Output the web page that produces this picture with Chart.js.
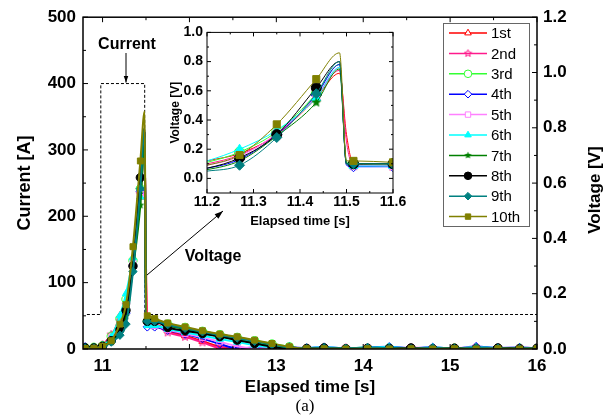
<!DOCTYPE html>
<html><head><meta charset="utf-8">
<script src="https://cdn.jsdelivr.net/npm/chart.js@4.4.1/dist/chart.umd.min.js"></script>
<style>
html,body{margin:0;padding:0;background:#fff;}
#wrap{position:relative;width:606px;height:419px;overflow:hidden;}
#main{position:absolute;left:0;top:0;}
#inset{position:absolute;left:150px;top:20px;}
</style></head>
<body><div id="wrap"><canvas id="main" width="606" height="419"></canvas><canvas id="inset" width="265" height="220"></canvas></div>
<script>
// ---------- data ----------
const times = [10.8, 10.9, 11.0, 11.1, 11.2, 11.27, 11.35, 11.435, 11.485, 11.5, 11.515, 11.6, 11.75, 11.95, 12.15, 12.35, 12.55, 12.75, 12.95, 13.15, 13.35, 13.55, 13.8, 14.05, 14.3, 14.55, 14.8, 15.05, 15.3, 15.55, 15.8, 16.0];
const seriesNames = ['1st','2nd','3rd','4th','5th','6th','7th','8th','9th','10th'];
const v1st  = [0.004,0.006,0.012,0.040,0.12,0.17,0.30,0.55,0.72,0.30,0.10,0.09,0.066,0.048,0.028,0.008,0.000,0.003,0.001,0.004,0.000,0.003,0.001,0.004,0.002,0.000,0.003,0.001,0.004,0.000,0.002,0.001];
const v2nd  = [0.003,0.005,0.015,0.052,0.10,0.16,0.30,0.56,0.74,0.25,0.09,0.085,0.060,0.044,0.024,0.004,0.002,0.000,0.003,0.001,0.002,0.000,0.004,0.001,0.000,0.003,0.001,0.002,0.000,0.004,0.001,0.002];
const v3rd  = [0.005,0.006,0.012,0.046,0.11,0.18,0.32,0.58,0.78,0.11,0.10,0.10,0.090,0.078,0.064,0.052,0.042,0.030,0.018,0.008,0.001,0.003,0.000,0.002,0.004,0.001,0.000,0.003,0.002,0.000,0.003,0.001];
const v4th  = [0.008,0.003,0.010,0.030,0.07,0.13,0.30,0.57,0.78,0.09,0.08,0.08,0.068,0.054,0.038,0.018,0.003,0.005,0.002,0.006,0.003,0.007,0.002,0.005,0.008,0.003,0.006,0.002,0.009,0.004,0.005,0.003];
const v5th  = [0.004,0.004,0.010,0.035,0.09,0.15,0.31,0.56,0.76,0.10,0.09,0.085,0.070,0.056,0.042,0.026,0.010,0.002,0.004,0.001,0.003,0.005,0.002,0.004,0.001,0.005,0.002,0.003,0.006,0.002,0.004,0.002];
const v6th  = [0.004,0.005,0.012,0.042,0.12,0.20,0.33,0.55,0.76,0.10,0.085,0.085,0.072,0.060,0.048,0.036,0.025,0.014,0.005,0.002,0.004,0.006,0.003,0.005,0.007,0.002,0.005,0.003,0.006,0.004,0.002,0.003];
const v7th  = [0.003,0.004,0.008,0.025,0.06,0.12,0.29,0.52,0.75,0.10,0.10,0.10,0.085,0.072,0.058,0.046,0.034,0.022,0.010,0.002,0.001,0.003,0.001,0.002,0.003,0.001,0.002,0.004,0.001,0.002,0.003,0.001];
const v8th  = [0.004,0.004,0.010,0.030,0.07,0.14,0.30,0.62,0.80,0.10,0.10,0.10,0.078,0.066,0.056,0.045,0.032,0.020,0.008,0.001,0.002,0.004,0.001,0.003,0.002,0.004,0.001,0.003,0.002,0.004,0.001,0.003];
const v9th  = [0.003,0.003,0.008,0.025,0.05,0.09,0.28,0.58,0.80,0.10,0.10,0.10,0.088,0.075,0.062,0.050,0.040,0.028,0.016,0.006,0.001,0.004,0.002,0.005,0.003,0.001,0.004,0.002,0.005,0.003,0.001,0.002];
const v10th = [0.002,0.003,0.010,0.030,0.09,0.16,0.37,0.68,0.86,0.12,0.12,0.11,0.094,0.080,0.066,0.054,0.044,0.032,0.020,0.008,0.001,0.001,0.000,0.001,0.000,0.001,0.000,0.001,0.000,0.001,0.000,0.001];
const voltageSeries = [v1st,v2nd,v3rd,v4th,v5th,v6th,v7th,v8th,v9th,v10th];
const currentTimes  = [10.82, 10.98, 10.98, 11.485, 11.485, 16.0];
const currentValues = [52, 52, 400, 400, 52, 52];
const xTickLabels   = [11, 12, 13, 14, 15, 16];
const currentTicks  = [0, 100, 200, 300, 400, 500];
const voltageTicks  = [0, 0.2, 0.4, 0.6, 0.8, 1.0, 1.2];
const insetXTicks   = [11.2, 11.3, 11.4, 11.5, 11.6];
const insetYTicks   = [0, 0.2, 0.4, 0.6, 0.8, 1.0];

// ---------- styles ----------
const colors = ['#ff0000','#ff1a8c','#33ff33','#0000ff','#ff80ff','#00ffff','#008000','#000000','#008080','#808000'];
const FONT = "'Liberation Sans', Arial, sans-serif";

function starImg(color, size, filled){
  const c = document.createElement('canvas'); c.width = size; c.height = size;
  const g = c.getContext('2d'); const cx = size/2, R = size/2 - 0.7, r = R*0.45;
  g.beginPath();
  for (let i=0;i<10;i++){ const a = -Math.PI/2 + i*Math.PI/5; const rr = (i%2)? r : R; g.lineTo(cx+rr*Math.cos(a), cx+rr*Math.sin(a)); }
  g.closePath();
  if (filled){ g.fillStyle = color; g.fill(); } else { g.strokeStyle = color; g.lineWidth = 1; g.stroke(); }
  return c;
}
function markerStyles(size){
  return [
    {style:'triangle', fill:false},
    {style:starImg(colors[1], size, false), fill:false},
    {style:'circle', fill:false},
    {style:'rectRot', fill:false},
    {style:'rect', fill:false},
    {style:'triangle', fill:true},
    {style:starImg(colors[6], size, true), fill:true},
    {style:'circle', fill:true},
    {style:'rectRot', fill:true},
    {style:'rect', fill:true}
  ];
}

function buildVoltageDatasets(hidden, radius, lineWidth, yId, imgSize){
  const ms = markerStyles(imgSize);
  return voltageSeries.map((vals, i) => ({
    label: seriesNames[i],
    data: times.map((t, k) => ({x: t, y: vals[k]})),
    yAxisID: yId,
    borderColor: colors[i],
    backgroundColor: ms[i].fill ? colors[i] : 'rgba(255,255,255,0)',
    pointBorderColor: colors[i],
    pointBackgroundColor: ms[i].fill ? colors[i] : 'rgba(255,255,255,0)',
    pointStyle: ms[i].style,
    pointBorderWidth: 1,
    pointRadius: ctx => hidden.includes(ctx.dataIndex) ? 0 : radius,
    borderWidth: lineWidth,
    cubicInterpolationMode: 'monotone',
    order: 10 - i
  }));
}

function setTicks(list){ return s => { s.ticks = list.map(v => ({value: v})); }; }

function drawFrameTicks(chart, specs, frameWidth){
  const {ctx, chartArea: a} = chart;
  ctx.save();
  ctx.strokeStyle = '#000';
  ctx.lineWidth = 1;
  ctx.beginPath();
  specs.forEach(sp => {
    const sc = chart.scales[sp.scale];
    sp.values.forEach(v => {
      const p = sc.getPixelForValue(v);
      if (sp.dir === 'x') {
        if (sp.bottom !== false){ ctx.moveTo(p, a.bottom); ctx.lineTo(p, a.bottom - sp.len); }
        if (sp.top){ ctx.moveTo(p, a.top); ctx.lineTo(p, a.top + sp.len); }
      } else {
        if (sp.left){ ctx.moveTo(a.left, p); ctx.lineTo(a.left + sp.len, p); }
        if (sp.right){ ctx.moveTo(a.right, p); ctx.lineTo(a.right - sp.len, p); }
      }
    });
  });
  ctx.stroke();
  ctx.lineWidth = frameWidth;
  ctx.strokeRect(a.left, a.top, a.right - a.left, a.bottom - a.top);
  ctx.restore();
}

function arrow(ctx, x1, y1, x2, y2, head){
  ctx.beginPath(); ctx.moveTo(x1, y1); ctx.lineTo(x2, y2); ctx.stroke();
  const ang = Math.atan2(y2 - y1, x2 - x1);
  ctx.beginPath();
  ctx.moveTo(x2, y2);
  ctx.lineTo(x2 - head*Math.cos(ang - 0.33), y2 - head*Math.sin(ang - 0.33));
  ctx.lineTo(x2 - head*Math.cos(ang + 0.33), y2 - head*Math.sin(ang + 0.33));
  ctx.closePath(); ctx.fill();
}

const range = (a, b, s) => { const r = []; for (let v = a; v <= b + 1e-9; v += s) r.push(+v.toFixed(4)); return r; };

// ---------- main chart ----------
const mainPlugin = {
  id: 'mainDecor',
  afterDraw(chart){
    drawFrameTicks(chart, [
      {scale:'x', dir:'x', values: xTickLabels, len:5, top:true},
      {scale:'x', dir:'x', values: range(11.5, 15.5, 1), len:3, top:true},
      {scale:'yA', dir:'y', values: currentTicks, len:5, left:true},
      {scale:'yA', dir:'y', values: range(50, 450, 100), len:3, left:true},
      {scale:'yV', dir:'y', values: voltageTicks, len:5, right:true},
      {scale:'yV', dir:'y', values: range(0.1, 1.1, 0.2), len:3, right:true}
    ], 1.5);
    const ctx = chart.ctx;
    const sx = chart.scales.x, yA = chart.scales.yA;
    ctx.save();
    ctx.fillStyle = '#000'; ctx.strokeStyle = '#000'; ctx.lineWidth = 1;
    ctx.textAlign = 'center'; ctx.textBaseline = 'middle';
    ctx.font = 'bold 16px ' + FONT;
    ctx.fillText('Current', 127, 45);
    const ax = sx.getPixelForValue(11.27);
    arrow(ctx, ax, 53, ax, yA.getPixelForValue(400) - 1, 7);
    ctx.fillText('Voltage', 213, 257);
    arrow(ctx, 147, 275, 223, 211, 9);
    // right axis title
    ctx.save();
    ctx.translate(595, 190); ctx.rotate(-Math.PI/2);
    ctx.font = 'bold 17px ' + FONT;
    ctx.fillText('Voltage [V]', 0, 0);
    ctx.restore();
    // caption
    ctx.font = "17px 'Liberation Serif', 'Times New Roman', serif";
    ctx.fillText('(a)', 305, 407);
    // legend
    const lx = 443, ly = 23, lw = 86, lh = 203;
    ctx.fillStyle = '#fff'; ctx.fillRect(lx, ly, lw, lh);
    ctx.strokeStyle = '#666'; ctx.lineWidth = 1; ctx.strokeRect(lx + 0.5, ly + 0.5, lw, lh);
    const ms = markerStyles(9);
    ctx.textAlign = 'left';
    ctx.font = '15px ' + FONT;
    seriesNames.forEach((n, i) => {
      const y = 33 + i * 20.4;
      ctx.strokeStyle = colors[i]; ctx.lineWidth = 1.5;
      ctx.beginPath(); ctx.moveTo(449, y); ctx.lineTo(487, y); ctx.stroke();
      ctx.fillStyle = ms[i].fill ? colors[i] : '#fff';
      ctx.lineWidth = 1;
      Chart.helpers.drawPoint(ctx, {pointStyle: ms[i].style, radius: 3.8, rotation: 0, borderWidth: 1}, 468, y);
      ctx.fillStyle = '#000';
      ctx.fillText(n, 491, y + 1);
    });
    ctx.restore();
  }
};

const mainDatasets = buildVoltageDatasets([8, 9], 4.2, 2, 'yV', 10);
mainDatasets.push({
  label: 'Current',
  data: currentTimes.map((t, k) => ({x: t, y: currentValues[k]})),
  yAxisID: 'yA',
  borderColor: '#000', borderWidth: 1, borderDash: [3, 2],
  pointRadius: 0, tension: 0, order: 100
});

new Chart(document.getElementById('main'), {
  type: 'line',
  data: {datasets: mainDatasets},
  options: {
    responsive: false, animation: false, devicePixelRatio: 1,
    layout: {padding: {left: 0, right: 0, top: 14, bottom: 0}},
    plugins: {legend: {display: false}, tooltip: {enabled: false}},
    scales: {
      x: {
        type: 'linear', min: 10.775, max: 16,
        afterBuildTicks: setTicks(xTickLabels),
        afterFit: s => { s.height = 70; },
        grid: {display: false, drawTicks: false}, border: {display: false},
        ticks: {padding: 7, color: '#000', font: {family: FONT, size: 17, weight: 'bold'}, callback: v => String(v), maxRotation: 0, autoSkip: false},
        title: {display: true, text: 'Elapsed time [s]', color: '#000', font: {family: FONT, size: 17, weight: 'bold'}, padding: {top: 0, bottom: 21}}
      },
      yA: {
        position: 'left', min: 0, max: 500,
        afterBuildTicks: setTicks(currentTicks),
        afterFit: s => { s.width = 83; },
        grid: {display: false, drawTicks: false}, border: {display: false},
        ticks: {padding: 7, color: '#000', font: {family: FONT, size: 17, weight: 'bold'}, callback: v => String(v)},
        title: {display: true, text: 'Current [A]', color: '#000', font: {family: FONT, size: 18, weight: 'bold'}, padding: {top: 14, bottom: 0}}
      },
      yV: {
        position: 'right', min: 0, max: 1.2,
        afterBuildTicks: setTicks(voltageTicks),
        afterFit: s => { s.width = 69; },
        grid: {display: false, drawTicks: false}, border: {display: false},
        ticks: {padding: 6, color: '#000', font: {family: FONT, size: 17, weight: 'bold'}, callback: v => v.toFixed(1)}
      }
    }
  },
  plugins: [mainPlugin]
});

// ---------- inset chart ----------
const insetPlugin = {
  id: 'insetDecor',
  afterDraw(chart){
    drawFrameTicks(chart, [
      {scale:'x', dir:'x', values: insetXTicks, len:4, top:true},
      {scale:'x', dir:'x', values: range(11.25, 11.55, 0.1), len:2, top:true},
      {scale:'y', dir:'y', values: insetYTicks, len:4, left:true, right:true},
      {scale:'y', dir:'y', values: range(0.1, 0.9, 0.2), len:2, left:true, right:true}
    ], 1);
  }
};

new Chart(document.getElementById('inset'), {
  type: 'line',
  data: {datasets: buildVoltageDatasets([4, 8, 9], 5, 1, 'y', 12)},
  options: {
    responsive: false, animation: false, devicePixelRatio: 1,
    layout: {padding: {left: 0, right: 22, top: 11, bottom: 0}},
    plugins: {legend: {display: false}, tooltip: {enabled: false}},
    scales: {
      x: {
        type: 'linear', min: 11.2, max: 11.6,
        afterBuildTicks: setTicks(insetXTicks),
        afterFit: s => { s.height = 47; },
        grid: {display: false, drawTicks: false}, border: {display: false},
        ticks: {padding: 1, color: '#000', font: {family: FONT, size: 14, weight: 'bold'}, callback: v => v.toFixed(1), maxRotation: 0, autoSkip: false},
        title: {display: true, text: 'Elapsed time [s]', color: '#000', font: {family: FONT, size: 13, weight: 'bold'}, padding: {top: 0, bottom: 11}}
      },
      y: {
        position: 'left', min: -0.1, max: 1.0,
        afterBuildTicks: setTicks(insetYTicks),
        afterFit: s => { s.width = 57; },
        grid: {display: false, drawTicks: false}, border: {display: false},
        ticks: {padding: 4, color: '#000', font: {family: FONT, size: 14, weight: 'bold'}, callback: v => v.toFixed(1)},
        title: {display: true, text: 'Voltage [V]', color: '#000', font: {family: FONT, size: 12, weight: 'bold'}, padding: {top: 18, bottom: 0}}
      }
    }
  },
  plugins: [insetPlugin]
});
</script>
</body></html>
